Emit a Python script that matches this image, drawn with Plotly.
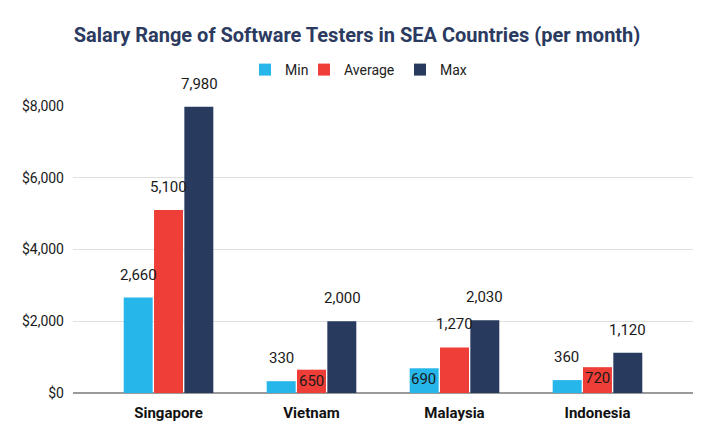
import plotly.graph_objects as go

countries = ["Singapore", "Vietnam", "Malaysia", "Indonesia"]
min_vals = [2660, 330, 690, 360]
avg_vals = [5100, 650, 1270, 720]
max_vals = [7980, 2000, 2030, 1120]
series_names = ["Min", "Average", "Max"]
tick_vals = [0, 2000, 4000, 6000, 8000]
tick_text = ["$0", "$2,000", "$4,000", "$6,000", "$8,000"]

colors = ["#27b6ea", "#ef3e37", "#283a5e"]
series = [min_vals, avg_vals, max_vals]

# page body has an 8px margin; compensate so the figure lands where the reference is
OFF = 8
W, H = 715 - OFF, 443 - OFF

legend_ids = ["legend", "legend2", "legend3"]
legend_sq = [259, 318, 414]  # screen x of legend swatches

fig = go.Figure()
for name, vals, col, lg in zip(series_names, series, colors, legend_ids):
    fig.add_trace(go.Bar(name=name, x=countries, y=vals, legend=lg, showlegend=True,
                         marker=dict(color=col, line=dict(width=0)), hoverinfo="x+y"))

# data labels (Google-Sheets-like placement)
inside = {(1, "Vietnam"), (0, "Malaysia"), (1, "Indonesia")}
annotations = []
for i, vals in enumerate(series):
    for c, v in zip(countries, vals):
        ins = (i, c) in inside
        annotations.append(dict(
            x=c, y=v, xref="x", yref="y", text=f"{v:,}", showarrow=False,
            xshift=(i - 1) * 30.5, yshift=-11 if ins else 23, yanchor="middle",
            font=dict(family="Roboto", size=15, color="#1a1a1a")))

legend_common = dict(orientation="h", xref="container", yref="container", xanchor="left",
                     yanchor="middle", y=1 - (70 - OFF) / H, bgcolor="rgba(0,0,0,0)",
                     font=dict(family="Roboto", size=14, color="#222222"))
legends = {}
for lg, sx in zip(legend_ids, legend_sq):
    legends[lg] = dict(legend_common, x=(sx - OFF - 14) / W)

fig.update_layout(
    width=W, height=H,
    showlegend=True,
    margin=dict(l=73 - OFF, r=22, t=102 - OFF, b=50),
    paper_bgcolor="white", plot_bgcolor="white",
    title=dict(text="<b>Salary Range of Software Testers in SEA Countries (per month)</b>",
               x=(357 - OFF) / W, xanchor="center", y=1 - (35 - OFF) / H, yanchor="middle",
               font=dict(family="Roboto", size=20, color="#2b3a5f")),
    barmode="group", bargap=0.364, bargroupgap=0.044,
    annotations=annotations,
    font=dict(family="Roboto"),
    **legends,
)
fig.update_xaxes(range=[-0.668, 3.668], showgrid=False, ticks="", showline=False,
                 ticklabelstandoff=9,
                 tickfont=dict(family="Roboto", size=15, color="#111111", weight="bold"))
fig.update_yaxes(range=[0, 8000], tickvals=tick_vals, ticktext=tick_text, showgrid=True,
                 gridcolor="#e0e0e0", gridwidth=1, zeroline=True, zerolinecolor="#9a9a9a",
                 zerolinewidth=2, ticks="", ticklabelstandoff=8,
                 tickfont=dict(family="Roboto", size=14, color="#1a1a1a"))

fig.write_html("out.html")
